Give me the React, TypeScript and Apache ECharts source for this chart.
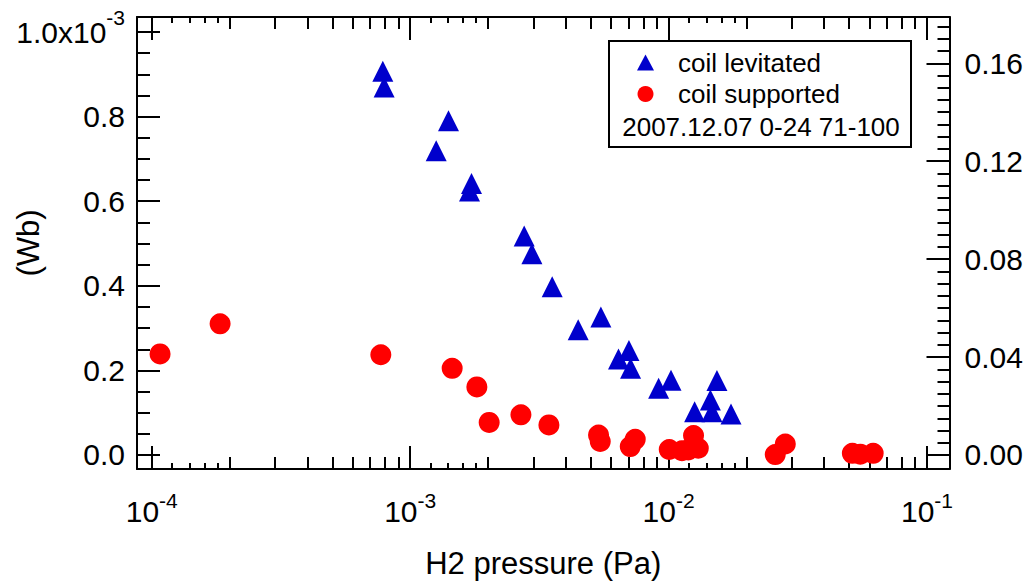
import React, { useEffect, useRef } from "react";
import * as echarts from "echarts";

const FONT = '"Liberation Sans", Arial, Helvetica, sans-serif';

// ---- data (flux in units of 1e-3 Wb, pressure in Pa) ----
const levitatedPressure = [
  7.84e-4, 7.93e-4, 1.407e-3, 1.261e-3, 1.727e-3, 1.697e-3, 2.762e-3, 2.959e-3,
  3.545e-3, 4.47e-3, 5.47e-3, 6.4e-3, 7.025e-3, 7.126e-3, 9.15e-3, 1.022e-2,
  1.539e-2, 1.451e-2, 1.472e-2, 1.261e-2, 1.744e-2,
];
const levitatedFlux = [
  0.907, 0.87, 0.79, 0.719, 0.642, 0.624, 0.518, 0.476, 0.398, 0.296, 0.326,
  0.227, 0.247, 0.205, 0.158, 0.177, 0.176, 0.13, 0.102, 0.102, 0.097,
];
const supportedPressure = [
  1.077e-4, 1.839e-4, 7.7e-4, 1.454e-3, 1.812e-3, 2.022e-3, 2.683e-3, 3.443e-3,
  5.358e-3, 5.44e-3, 7.43e-3, 7.108e-3, 1.006e-2, 1.127e-2, 1.249e-2, 1.303e-2,
  1.192e-2, 2.587e-2, 2.829e-2, 5.143e-2, 5.52e-2, 6.19e-2,
];
const supportedFlux = [
  0.239, 0.31, 0.237, 0.205, 0.161, 0.077, 0.095, 0.071, 0.047, 0.032, 0.037,
  0.02, 0.013, 0.01, 0.046, 0.016, 0.012, 0.001, 0.026, 0.004, 0.002, 0.004,
];

// ---- axes ----
const X_MIN = 8.77e-5;
const X_MAX = 0.1222;
const LOG_MIN = Math.log10(X_MIN);
const LOG_MAX = Math.log10(X_MAX);
const Y_MIN = -0.0331;
const Y_MAX = 1.0355;
const R_MIN = -0.00572;
const R_MAX = 0.1789;

const xDecades = [1e-4, 1e-3, 1e-2];
const xMidMultipliers = [2, 3, 4, 5, 6, 7, 8, 9];
const xFineMultipliers = [1.2, 1.4, 1.6, 1.8];
const yMajorTicks = [0, 0.2, 0.4, 0.6, 0.8, 1.0];
const yMinorTicks = [
  0.05, 0.1, 0.15, 0.25, 0.3, 0.35, 0.45, 0.5, 0.55, 0.65, 0.7, 0.75, 0.85, 0.9, 0.95,
];
const rMajorTicks = [0, 0.04, 0.08, 0.12, 0.16];
const rMinorTicks: number[] = [];
for (let k = 1; k <= 35; k++) if (k % 8 !== 0) rMinorTicks.push(+(k * 0.005).toFixed(3));

const xMidLog = xDecades.flatMap((d) => xMidMultipliers.map((m) => Math.log10(m * d)));
const xFineLog = xDecades.flatMap((d) => xFineMultipliers.map((m) => Math.log10(m * d)));

const BLACK = "#000";
const line2 = { color: BLACK, width: 2 };

function helperX(position: string, values: number[], length: number) {
  return {
    type: "value",
    gridIndex: 0,
    position,
    min: LOG_MIN,
    max: LOG_MAX,
    axisLine: { show: false, onZero: false },
    axisTick: { show: true, inside: true, length, lineStyle: line2, customValues: values },
    axisLabel: { show: false },
    splitLine: { show: false },
  };
}

function helperY(position: string, min: number, max: number, values: number[], length: number) {
  return {
    type: "value",
    gridIndex: 0,
    position,
    min,
    max,
    axisLine: { show: false, onZero: false },
    axisTick: { show: true, inside: true, length, lineStyle: line2, customValues: values },
    axisLabel: { show: false },
    splitLine: { show: false },
  };
}

export default function App() {
  const ref = useRef<HTMLDivElement>(null);
  useEffect(() => {
    if (!ref.current) return;
    const chart = echarts.init(ref.current, null, { renderer: "svg" });
    const supRich = {
      b: { fontSize: 30, fontFamily: FONT, color: BLACK, lineHeight: 42 },
      s: { fontSize: 21, fontFamily: FONT, color: BLACK, lineHeight: 20, verticalAlign: "top" },
    };
    const yRich = {
      b: { fontSize: 30, fontFamily: FONT, color: BLACK, lineHeight: 50 },
      s: { fontSize: 21, fontFamily: FONT, color: BLACK, lineHeight: 20, verticalAlign: "top" },
    };
    chart.setOption({
      animation: false,
      backgroundColor: "#fff",
      grid: {
        left: 137,
        right: 76.5,
        top: 17,
        bottom: 115,
        containLabel: false,
        outerBoundsMode: "none",
      },
      legend: {
        orient: "vertical",
        left: 637,
        top: 47,
        padding: 0,
        itemWidth: 17,
        itemHeight: 16,
        itemGap: 0.5,
        selectedMode: false,
        formatter: (name: string) => `{p|}{t|${name}}`,
        textStyle: {
          fontSize: 26,
          lineHeight: 30.5,
          fontFamily: FONT,
          color: BLACK,
          rich: {
            p: { width: 19 },
            t: { fontSize: 26, lineHeight: 31, fontFamily: FONT, color: BLACK },
          },
        },
        data: [
          { name: "coil levitated", icon: "triangle" },
          { name: "coil supported", icon: "circle" },
        ],
        z: 6,
      },
      graphic: [
        {
          type: "rect",
          z: 5,
          shape: { x: 609, y: 41, width: 302, height: 106 },
          style: { fill: "#fff", stroke: BLACK, lineWidth: 2 },
        },
        {
          type: "text",
          z: 7,
          x: 761,
          y: 127,
          style: {
            text: "2007.12.07 0-24 71-100",
            fontSize: 26,
            fontFamily: FONT,
            fill: BLACK,
            align: "center",
            verticalAlign: "middle",
          },
        },
      ],
      xAxis: [
        {
          type: "log",
          logBase: 10,
          position: "bottom",
          min: X_MIN,
          max: X_MAX,
          axisLine: { show: true, onZero: false, lineStyle: line2 },
          axisTick: { show: true, inside: true, length: 23, lineStyle: line2 },
          axisLabel: {
            margin: 21,
            formatter: (v: number) => {
              const e = Math.log10(v);
              if (Math.abs(e - Math.round(e)) > 1e-6) return "";
              return `{b|10}{s|${Math.round(e)}}`;
            },
            rich: supRich,
          },
          splitLine: { show: false },
          name: "H2 pressure (Pa)",
          nameLocation: "middle",
          nameGap: 79,
          nameTextStyle: { fontSize: 31, fontFamily: FONT, color: BLACK },
        },
        helperX("bottom", xMidLog, 12),
        helperX("bottom", xFineLog, 6),
        {
          type: "log",
          logBase: 10,
          position: "top",
          min: X_MIN,
          max: X_MAX,
          axisLine: { show: true, onZero: false, lineStyle: line2 },
          axisTick: { show: true, inside: true, length: 23, lineStyle: line2 },
          axisLabel: { show: false },
          splitLine: { show: false },
        },
        helperX("top", xMidLog, 12),
        helperX("top", xFineLog, 6),
      ],
      yAxis: [
        {
          type: "value",
          position: "left",
          min: Y_MIN,
          max: Y_MAX,
          axisLine: { show: true, onZero: false, lineStyle: line2 },
          axisTick: { show: true, inside: true, length: 23, lineStyle: line2, customValues: yMajorTicks },
          axisLabel: {
            customValues: yMajorTicks,
            margin: 12,
            formatter: (v: number) =>
              Math.abs(v - 1) < 1e-9 ? "{b|1.0x10}{s|-3}" : `{b|${v.toFixed(1)}}`,
            rich: yRich,
          },
          splitLine: { show: false },
          name: "(Wb)",
          nameLocation: "middle",
          nameRotate: 90,
          nameGap: 93,
          nameMoveOverlap: false,
          nameTextStyle: { fontSize: 31, fontFamily: FONT, color: BLACK },
        },
        helperY("left", Y_MIN, Y_MAX, yMinorTicks, 13),
        {
          type: "value",
          position: "right",
          min: R_MIN,
          max: R_MAX,
          axisLine: { show: true, onZero: false, lineStyle: line2 },
          axisTick: { show: true, inside: true, length: 23, lineStyle: line2, customValues: rMajorTicks },
          axisLabel: {
            customValues: rMajorTicks,
            margin: 15,
            fontSize: 30,
            fontFamily: FONT,
            color: BLACK,
            formatter: (v: number) => v.toFixed(2),
          },
          splitLine: { show: false },
        },
        helperY("right", R_MIN, R_MAX, rMinorTicks, 12),
      ],
      series: [
        {
          name: "coil levitated",
          type: "scatter",
          xAxisIndex: 0,
          yAxisIndex: 0,
          symbol: "triangle",
          symbolSize: [21, 21],
          itemStyle: { color: "#0000cc", opacity: 1 },
          data: levitatedPressure.map((p, i) => [p, levitatedFlux[i]]),
        },
        {
          name: "coil supported",
          type: "scatter",
          xAxisIndex: 0,
          yAxisIndex: 0,
          symbol: "circle",
          symbolSize: 21,
          itemStyle: { color: "#ff0000", opacity: 1 },
          data: supportedPressure.map((p, i) => [p, supportedFlux[i]]),
        },
      ],
    });
    return () => chart.dispose();
  }, []);
  return (
    <div
      ref={ref}
      style={{ position: "fixed", left: 0, top: 0, width: 1026, height: 584, background: "#fff" }}
    />
  );
}
